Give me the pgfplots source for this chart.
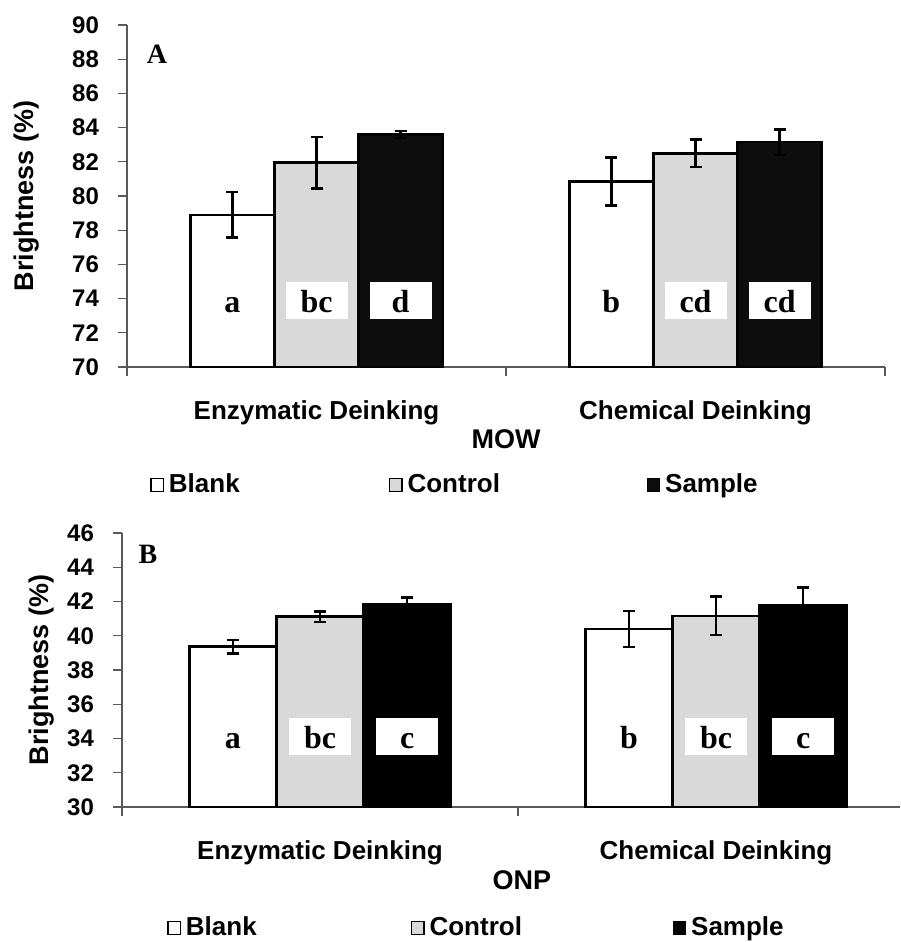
\documentclass[border=0pt]{standalone}
\usepackage{fontspec}
\setmainfont{Liberation Sans}
\newfontfamily\serifface{Liberation Serif}
\usepackage{pgfplots}
\pgfplotsset{compat=1.18}

\definecolor{ctrlgray}{HTML}{D9D9D9}
\definecolor{samplefill}{HTML}{0D0D0D}

\tikzset{
  lbl/.style={fill=white, inner sep=0pt, minimum width=31pt,
    text height=15.25pt, text depth=3.25pt,
    font=\serifface\bfseries\fontsize{16}{18}\selectfont},
  panellbl/.style={font=\serifface\bfseries\fontsize{14}{16}\selectfont},
}

\pgfplotsset{
  sq legend/.style={legend image code/.code={%
      \draw[##1, line width=0.6pt, draw=black] (0pt,-3.1pt) rectangle (6.2pt,3.1pt);}},
  barplot/.style={ybar, bar width=#1, bar shift=0pt, draw=black, line width=1.3pt, sq legend,
      error bars/y dir=both, error bars/y explicit,
      error bars/error bar style={line width=1.2pt, black},
      error bars/error mark options={line width=1.2pt, black, mark size=3pt, rotate=90}},
  panel/.style={
    scale only axis,
    axis lines*=left,
    axis line style={black!65, line width=0.6pt},
    tick align=outside,
    major tick length=4.5pt,
    tick style={black!65, line width=0.6pt},
    /pgf/number format/assume math mode=true,
    yticklabel style={font=\fontsize{12}{14}\selectfont\bfseries, xshift=-6pt},
    xticklabels={},
    extra x ticks={0,1},
    extra x tick labels={Enzymatic Deinking, Chemical Deinking},
    extra x tick style={major tick length=0pt,
      xticklabel style={font=\fontsize{13}{15}\selectfont\bfseries, yshift=-13.5pt}},
    ylabel={Brightness (\%)},
    legend columns=3,
    legend cell align=left,
    legend style={draw=none, fill=none, inner sep=0pt, anchor=west,
      font=\fontsize{13}{15}\selectfont\bfseries, column sep=2.5pt,
      nodes={inner sep=0pt}},
  },
}

\begin{document}
\begin{tikzpicture}

% ---------------- MOW ----------------
\begin{axis}[panel,
  at={(63.5pt,-183.5pt)}, anchor=south west,
  width=379pt, height=171pt,
  xmin=-0.5, xmax=1.5, xtick={-0.5,0.5,1.5},
  ymin=70, ymax=90, ytick={70,72,...,90},
  every axis y label/.style={at={(axis description cs:-0.132,0.5)}, rotate=90, anchor=center,
    font=\fontsize{13.5}{16}\selectfont\bfseries},
  xlabel={MOW},
  every axis x label/.style={at={(axis description cs:0.5,-0.2105)}, anchor=center,
    font=\fontsize{13.5}{16}\selectfont\bfseries},
  legend style={at={(axis description cs:0.0303,-0.345)}},
]
% Blank, Control and Sample bars beside each other in each group
\addplot[barplot=0.222, fill=white]
  coordinates {(-0.222,78.9) +- (0,1.33) (0.778,80.85) +- (0,1.4)};
\addlegendentry{\makebox[107.5pt][l]{Blank}}
\addplot[barplot=0.222, fill=ctrlgray]
  coordinates {(0,81.95) +- (0,1.5) (1,82.5) +- (0,0.8)};
\addlegendentry{\makebox[117pt][l]{Control}}
\addplot[barplot=0.222, fill=samplefill]
  coordinates {(0.222,83.6) +- (0,0.2) (1.222,83.15) +- (0,0.75)};
\addlegendentry{Sample}

\node[lbl] at (axis cs:-0.222,73.9) {a};
\node[lbl] at (axis cs:0,73.9) {bc};
\node[lbl] at (axis cs:0.222,73.9) {d};
\node[lbl] at (axis cs:0.778,73.9) {b};
\node[lbl] at (axis cs:1,73.9) {cd};
\node[lbl] at (axis cs:1.222,73.9) {cd};
\node[panellbl] at (rel axis cs:0.0396,0.915) {A};
\end{axis}

% ---------------- ONP ----------------
\begin{axis}[panel,
  at={(61pt,-403.5pt)}, anchor=south west,
  width=389pt, height=137pt,
  xmin=-0.5, xmax=1.4646, xtick={-0.5,0.5},
  ymin=30, ymax=46, ytick={30,32,...,46},
  every axis y label/.style={at={(axis description cs:-0.104,0.5)}, rotate=90, anchor=center,
    font=\fontsize{13.5}{16}\selectfont\bfseries},
  xlabel={ONP},
  every axis x label/.style={at={(axis description cs:0.514,-0.266)}, anchor=center,
    font=\fontsize{13.5}{16}\selectfont\bfseries},
  legend style={at={(axis description cs:0.0578,-0.4416)}},
]
\addplot[barplot=0.22, fill=white]
  coordinates {(-0.22,39.36) +- (0,0.4) (0.78,40.4) +- (0,1.05)};
\addlegendentry{\makebox[110pt][l]{Blank}}
\addplot[barplot=0.22, fill=ctrlgray]
  coordinates {(0,41.12) +- (0,0.3) (1,41.16) +- (0,1.13)};
\addlegendentry{\makebox[119pt][l]{Control}}
\addplot[barplot=0.22, fill=black]
  coordinates {(0.22,41.86) +- (0,0.37) (1.22,41.76) +- (0,1.06)};
\addlegendentry{Sample}

\node[lbl] at (axis cs:-0.22,34.1) {a};
\node[lbl] at (axis cs:0,34.1) {bc};
\node[lbl] at (axis cs:0.22,34.1) {c};
\node[lbl] at (axis cs:0.78,34.1) {b};
\node[lbl] at (axis cs:1,34.1) {bc};
\node[lbl] at (axis cs:1.22,34.1) {c};
\node[panellbl] at (rel axis cs:0.0334,0.923) {B};
\end{axis}

% page frame
\pgfresetboundingbox
\useasboundingbox (0pt,0pt) rectangle (450pt,-471pt);
\end{tikzpicture}
\end{document}
